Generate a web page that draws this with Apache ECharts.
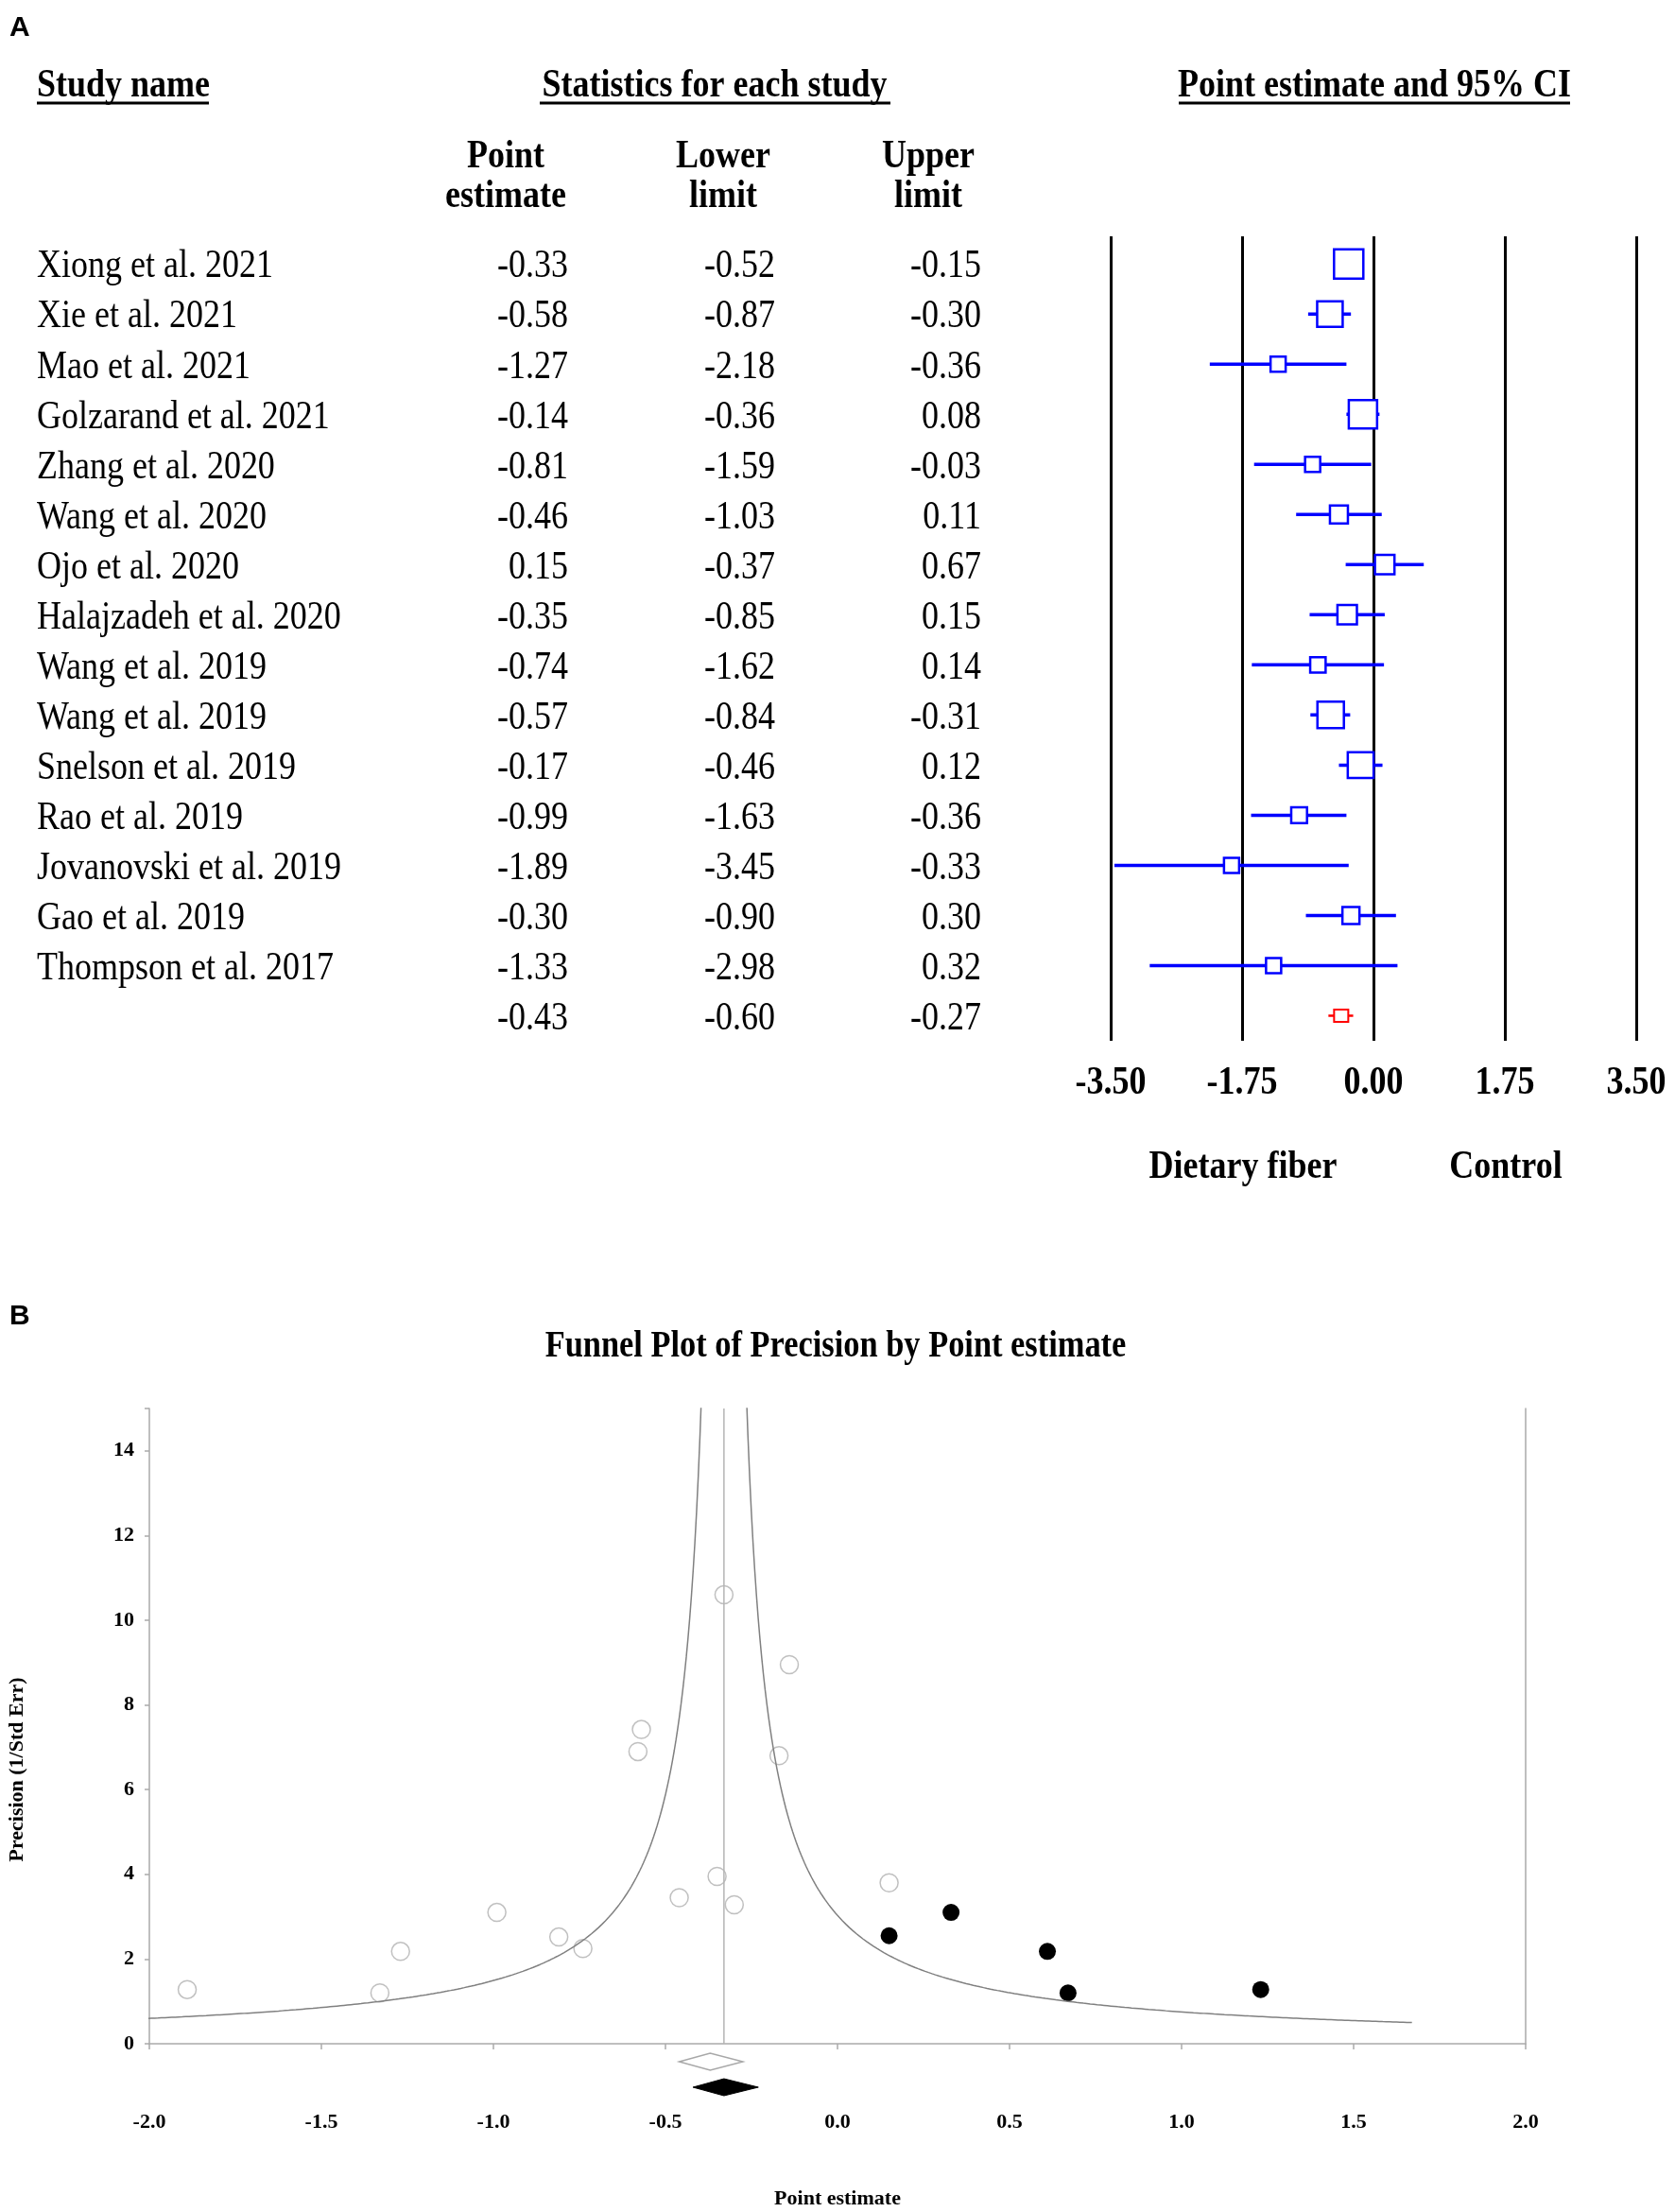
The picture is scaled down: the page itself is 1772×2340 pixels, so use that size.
<!DOCTYPE html>
<html><head><meta charset="utf-8">
<script src="https://cdn.jsdelivr.net/npm/echarts@6/dist/echarts.min.js"></script>
<style>html,body{margin:0;padding:0;background:#fff}#c{width:1772px;height:2340px}</style>
</head><body><div id="c"></div>
<script>
// ---------- Panel A: forest plot data ----------
const studies = ['Xiong et al. 2021','Xie et al. 2021','Mao et al. 2021','Golzarand et al. 2021','Zhang et al. 2020','Wang et al. 2020','Ojo et al. 2020','Halajzadeh et al. 2020','Wang et al. 2019','Wang et al. 2019','Snelson et al. 2019','Rao et al. 2019','Jovanovski et al. 2019','Gao et al. 2019','Thompson et al. 2017'];
const pointEst = [-0.33,-0.58,-1.27,-0.14,-0.81,-0.46,0.15,-0.35,-0.74,-0.57,-0.17,-0.99,-1.89,-0.30,-1.33];
const lowerLim = [-0.52,-0.87,-2.18,-0.36,-1.59,-1.03,-0.37,-0.85,-1.62,-0.84,-0.46,-1.63,-3.45,-0.90,-2.98];
const upperLim = [-0.15,-0.30,-0.36,0.08,-0.03,0.11,0.67,0.15,0.14,-0.31,0.12,-0.36,-0.33,0.30,0.32];
// relative weight of each study
const relWeight = [10.3,7.8,2.74,9.6,2.74,3.87,4.55,4.55,2.85,8.4,8.0,3.0,2.74,3.47,2.74];
const pooledEst = -0.43, pooledLower = -0.60, pooledUpper = -0.27;
const forestTicks = [-3.5,-1.75,0,1.75,3.5];
const forestSideLabels = ['Dietary fiber','Control'];

// ---------- Panel B: funnel plot data ----------
const funnelObsX = [-0.33,-0.58,-1.27,-0.14,-0.81,-0.46,0.15,-0.35,-0.74,-0.57,-0.17,-0.99,-1.89,-0.30,-1.33];
const funnelObsY = [10.6,6.9,2.18,8.95,2.52,3.45,3.8,3.95,2.25,7.42,6.8,3.1,1.28,3.28,1.2];
const funnelImpX = [0.15,0.33,0.61,0.67,1.23];
const funnelImpY = [2.55,3.1,2.18,1.2,1.28];
const funnelCenter = -0.33;
const observedDiamond = [-0.46,-0.37,-0.275];  // lower, estimate, upper
const adjustedDiamond = [-0.42,-0.33,-0.23];

// ---------- build ----------
const SERIF = 'Liberation Serif';
const FS = 43, SX = 0.837;           // panel A text: tall, narrow Times
const REG = FS+'px "'+SERIF+'"', BOLD = 'bold '+FS+'px "'+SERIF+'"';
const rows = studies.concat(['']);
const forestData = pointEst.map((e,i)=>[i, lowerLim[i], e, upperLim[i], relWeight[i]]);
const tableData = rows.map((n,i)=>[0, i]);
const pE = pointEst.concat([pooledEst]), pL = lowerLim.concat([pooledLower]), pU = upperLim.concat([pooledUpper]);

// funnel pseudo-confidence boundary: precision = 1/|x - center|
const leftCurve = [], rightCurve = [];
for (let d = 1/15.5; d <= 2.0001; d += 0.005) {
  leftCurve.push([funnelCenter - d, 1/d]);
  rightCurve.push([funnelCenter + d, 1/d]);
}

const chart = echarts.init(document.getElementById('c'), null, {renderer:'canvas'});
const T = (x,y,text,font,align,sx)=>({type:'text', x:x, y:y, scaleX:(sx||SX),
  style:{x:0, y:0, text:text, font:font, fill:'#000', textAlign:align||'center', textVerticalAlign:'middle'}});
const option = {
  backgroundColor:'#fff',
  animation:false,
  grid:[
    {left:1175, right:41, top:250, height:851, outerBoundsMode:'none'},
    {left:158, right:158, top:1490, height:672, outerBoundsMode:'none'}
  ],
  xAxis:[
    {gridIndex:0, type:'value', min:-3.5, max:3.5, interval:1.75,
     axisLine:{show:false}, axisTick:{show:false}, axisLabel:{show:false},
     splitLine:{show:true, lineStyle:{color:'#000', width:3}}},
    {gridIndex:1, type:'value', min:-2, max:2, interval:0.5,
     axisLine:{show:true, onZero:false, lineStyle:{color:'#aaa', width:1.5}},
     axisTick:{show:true, length:6, lineStyle:{color:'#aaa', width:1.5}},
     splitLine:{show:false},
     axisLabel:{margin:72, color:'#000', fontFamily:SERIF, fontWeight:'bold', fontSize:22,
       formatter:v=>v.toFixed(1)},
     name:'Point estimate', nameLocation:'middle', nameGap:153,
     nameTextStyle:{color:'#000', fontFamily:SERIF, fontWeight:'bold', fontSize:22}}
  ],
  yAxis:[
    {gridIndex:0, type:'value', min:-0.55, max:15.5, inverse:true, show:false},
    {gridIndex:1, type:'value', min:0, max:15, interval:2,
     axisLine:{show:true, onZero:false, lineStyle:{color:'#aaa', width:1.5}},
     axisTick:{show:true, length:5, lineStyle:{color:'#aaa', width:1.5}},
     splitLine:{show:false},
     axisLabel:{margin:16, color:'#000', fontFamily:SERIF, fontWeight:'bold', fontSize:22,
       formatter:v=>(v%2===0?String(v):'')}},
    {gridIndex:1, type:'value', min:0, max:15, position:'right',
     axisLine:{show:true, onZero:false, lineStyle:{color:'#aaa', width:1.5}},
     axisTick:{show:false}, axisLabel:{show:false}, splitLine:{show:false}}
  ],
  series:[
    // table text (study names + statistics), rows placed by the row axis
    {type:'custom', xAxisIndex:0, yAxisIndex:0, data:tableData, clip:false,
     renderItem:(params, api)=>{
       const i = api.value(1);
       const y = api.coord([0, i])[1] + 3;
       return {type:'group', children:[
         T(39, y, rows[i], REG, 'left'),
         T(601, y, pE[i].toFixed(2), REG, 'right'),
         T(820, y, pL[i].toFixed(2), REG, 'right'),
         T(1038, y, pU[i].toFixed(2), REG, 'right')
       ]};
     }},
    // forest axis tick labels, placed on the forest x scale
    {type:'custom', xAxisIndex:0, yAxisIndex:0, data:forestTicks.map(v=>[v, 15.5]), clip:false,
     renderItem:(params, api)=>{
       const p = api.coord([api.value(0), api.value(1)]);
       return T(p[0], p[1] + 45, api.value(0).toFixed(2), BOLD, 'center');
     }},
    // study CIs and boxes
    {type:'custom', xAxisIndex:0, yAxisIndex:0, data:forestData, clip:false,
     encode:{x:[1,2,3], y:0},
     renderItem:(params, api)=>{
       const i = api.value(0);
       const a = api.coord([api.value(1), i]), e = api.coord([api.value(2), i]), b = api.coord([api.value(3), i]);
       const s = 9.66*Math.sqrt(api.value(4));
       return {type:'group', children:[
         {type:'line', shape:{x1:a[0], y1:a[1], x2:b[0], y2:b[1]}, style:{stroke:'#0000ff', lineWidth:3.5}},
         {type:'rect', shape:{x:e[0]-s/2, y:e[1]-s/2, width:s, height:s},
          style:{fill:'#fff', stroke:'#0000ff', lineWidth:2.5}}
       ]};
     }},
    // pooled estimate
    {type:'custom', xAxisIndex:0, yAxisIndex:0, data:[[15, pooledLower, pooledEst, pooledUpper]], clip:false,
     encode:{x:[1,2,3], y:0},
     renderItem:(params, api)=>{
       const i = api.value(0);
       const a = api.coord([api.value(1), i]), e = api.coord([api.value(2), i]), b = api.coord([api.value(3), i]);
       return {type:'group', children:[
         {type:'line', shape:{x1:a[0], y1:a[1], x2:b[0], y2:b[1]}, style:{stroke:'#ff0000', lineWidth:2.5}},
         {type:'rect', shape:{x:e[0]-7.5, y:e[1]-6.5, width:15, height:13},
          style:{fill:'#fff', stroke:'#ff0000', lineWidth:2}}
       ]};
     }},
    // funnel boundary curves
    {type:'line', xAxisIndex:1, yAxisIndex:1, data:leftCurve, showSymbol:false, clip:true,
     lineStyle:{color:'#808080', width:1.5}, silent:true},
    {type:'line', xAxisIndex:1, yAxisIndex:1, data:rightCurve, showSymbol:false, clip:true,
     lineStyle:{color:'#808080', width:1.5}, silent:true},
    // center line
    {type:'line', xAxisIndex:1, yAxisIndex:1, data:[[funnelCenter,0],[funnelCenter,15]], showSymbol:false,
     lineStyle:{color:'#b4b4b4', width:1.5}, silent:true},
    // observed studies
    {type:'scatter', xAxisIndex:1, yAxisIndex:1, data:funnelObsX.map((x,i)=>[x, funnelObsY[i]]),
     symbol:'circle', symbolSize:19, itemStyle:{color:'#fff', borderColor:'#b0b0b0', borderWidth:1.5}},
    // imputed studies
    {type:'scatter', xAxisIndex:1, yAxisIndex:1, data:funnelImpX.map((x,i)=>[x, funnelImpY[i]]),
     symbol:'circle', symbolSize:18, itemStyle:{color:'#000', opacity:1}},
    // combined-effect diamonds below the axis
    {type:'custom', xAxisIndex:1, yAxisIndex:1, clip:false,
     data:[observedDiamond.concat([0]), adjustedDiamond.concat([1])],
     encode:{x:[0,1,2]},
     renderItem:(params, api)=>{
       const kind = api.value(3);
       const base = api.coord([api.value(1), 0]);
       const lo = api.coord([api.value(0), 0])[0], hi = api.coord([api.value(2), 0])[0], c = base[0];
       const yc = base[1] + (kind===0 ? 19 : 46), h = 9;
       return {type:'polygon', shape:{points:[[lo,yc],[c,yc-h],[hi,yc],[c,yc+h]]},
         style: kind===0 ? {fill:'#fff', stroke:'#a8a8a8', lineWidth:1.5} : {fill:'#000', stroke:'#000', lineWidth:1}};
     }}
  ],
  graphic:[
    {type:'text', left:10, top:15, style:{text:'A', font:'bold 30px "Liberation Sans"', fill:'#000'}},
    {type:'text', left:10, top:1378, style:{text:'B', font:'bold 30px "Liberation Sans"', fill:'#000'}},
    T(39, 91, 'Study name', BOLD, 'left'),
    {type:'line', shape:{x1:39, y1:109, x2:221, y2:109}, style:{stroke:'#000', lineWidth:3}},
    T(756, 91, 'Statistics for each study', BOLD),
    {type:'line', shape:{x1:571, y1:109, x2:942, y2:109}, style:{stroke:'#000', lineWidth:3}},
    T(1454, 91, 'Point estimate and 95% CI', BOLD),
    {type:'line', shape:{x1:1247, y1:109, x2:1661, y2:109}, style:{stroke:'#000', lineWidth:3}},
    T(535, 166, 'Point', BOLD), T(535, 208, 'estimate', BOLD),
    T(765, 166, 'Lower', BOLD), T(765, 208, 'limit', BOLD),
    T(982, 166, 'Upper', BOLD), T(982, 208, 'limit', BOLD),
    T(1315, 1235, forestSideLabels[0], BOLD),
    T(1593, 1235, forestSideLabels[1], BOLD),
    T(884, 1425, 'Funnel Plot of Precision by Point estimate', 'bold 40px "'+SERIF+'"', 'center', 0.86),
    {type:'text', x:18, y:1872, rotation:Math.PI/2, style:{x:0, y:0, text:'Precision (1/Std Err)', font:'bold 22px "'+SERIF+'"', fill:'#000', textAlign:'center', textVerticalAlign:'middle'}}
  ]
};
chart.setOption(option);
</script>
</body></html>
